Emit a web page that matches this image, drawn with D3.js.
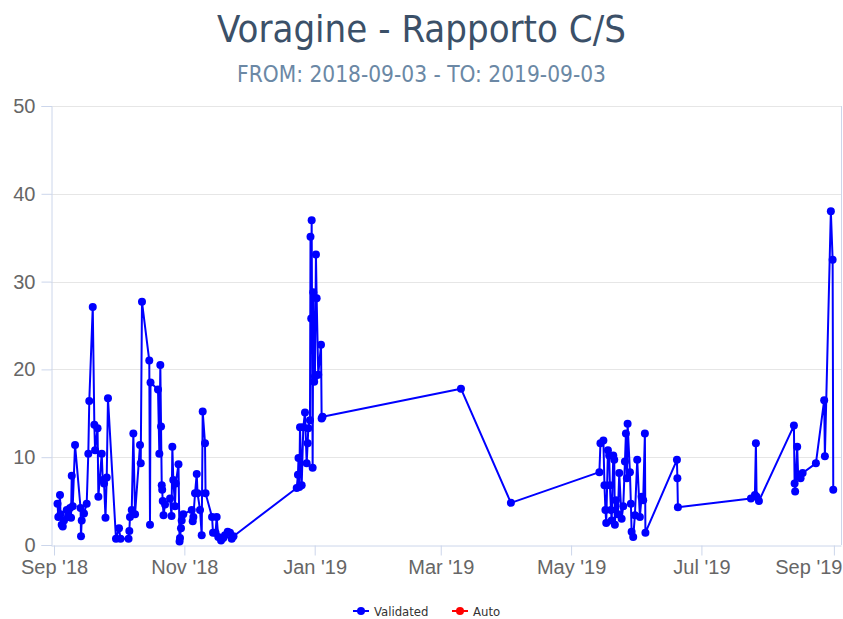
<!DOCTYPE html>
<html>
<head>
<meta charset="utf-8">
<script src="https://cdn.jsdelivr.net/npm/d3@7"></script>
<style>
  body { margin: 0; background: #fff; }
  svg { display: block; font-family: 'DejaVu Sans Condensed', 'DejaVu Sans', sans-serif; }
</style>
</head>
<body>
<div id="chart"></div>
<script>
// chart text
const chartTitle = 'Voragine - Rapporto C/S';
const chartSubtitle = 'FROM: 2018-09-03 - TO: 2019-09-03';
const seriesNames = ['Validated', 'Auto'];
const seriesColors = ['#0000ff', '#ff0000'];

// axis ticks
const yTicks = [0, 10, 20, 30, 40, 50];
const xTickDates = ['2018-09-01', '2018-11-01', '2019-01-01', '2019-03-01', '2019-05-01', '2019-07-01', '2019-09-01'];
const xTickLabels = ["Sep '18", "Nov '18", "Jan '19", "Mar '19", "May '19", "Jul '19", "Sep '19"];

// Validated series: time (UTC, yyyy-mm-ddThh) and C/S ratio
const validatedTimes = [
    '2018-09-02T15', '2018-09-03T00', '2018-09-03T19', '2018-09-04T01', '2018-09-04T14', '2018-09-05T02',
    '2018-09-05T16', '2018-09-06T23', '2018-09-07T17', '2018-09-08T12', '2018-09-08T23', '2018-09-09T07',
    '2018-09-09T18', '2018-09-10T20', '2018-09-13T10', '2018-09-13T15', '2018-09-13T23', '2018-09-15T01',
    '2018-09-16T07', '2018-09-17T01', '2018-09-17T12', '2018-09-19T03', '2018-09-19T21', '2018-09-20T05',
    '2018-09-21T09', '2018-09-21T18', '2018-09-23T08', '2018-09-23T19', '2018-09-24T10', '2018-09-25T02',
    '2018-09-25T16', '2018-09-26T06', '2018-09-30T00', '2018-10-01T10', '2018-10-02T03', '2018-10-05T21',
    '2018-10-06T06', '2018-10-06T13', '2018-10-07T09', '2018-10-08T03', '2018-10-08T22', '2018-10-11T06',
    '2018-10-11T14', '2018-10-12T04', '2018-10-15T14', '2018-10-15T22', '2018-10-16T04', '2018-10-19T16',
    '2018-10-20T07', '2018-10-20T18', '2018-10-21T02', '2018-10-21T10', '2018-10-21T15', '2018-10-21T21',
    '2018-10-22T06', '2018-10-22T23', '2018-10-25T07', '2018-10-26T00', '2018-10-26T09', '2018-10-26T20',
    '2018-10-27T15', '2018-10-27T23', '2018-10-29T06', '2018-10-29T18', '2018-10-29T23', '2018-10-30T10',
    '2018-10-30T18', '2018-10-31T12', '2018-11-04T11', '2018-11-04T22', '2018-11-05T05', '2018-11-06T00',
    '2018-11-06T19', '2018-11-07T04', '2018-11-08T08', '2018-11-09T03', '2018-11-09T14', '2018-11-10T16',
    '2018-11-10T22', '2018-11-13T23', '2018-11-14T10', '2018-11-15T14', '2018-11-16T03', '2018-11-16T21',
    '2018-11-18T04', '2018-11-19T05', '2018-11-20T00', '2018-11-21T07', '2018-11-22T09', '2018-11-23T04',
    '2018-11-24T00',
    '2018-12-23T14', '2018-12-24T04', '2018-12-24T10', '2018-12-24T19', '2018-12-25T03', '2018-12-25T22',
    '2018-12-26T16', '2018-12-27T11', '2018-12-28T06', '2018-12-28T17', '2018-12-29T00', '2018-12-29T19',
    '2018-12-30T01', '2018-12-30T09', '2018-12-30T14', '2018-12-31T01', '2018-12-31T08', '2018-12-31T18',
    '2019-01-01T03', '2019-01-01T14', '2019-01-01T22', '2019-01-02T16', '2019-01-03T23', '2019-01-04T06',
    '2019-01-04T16',
    '2019-03-10T11', '2019-04-02T20',
    '2019-05-14T06', '2019-05-14T18', '2019-05-16T03', '2019-05-16T15', '2019-05-17T02', '2019-05-17T11',
    '2019-05-18T06', '2019-05-18T20', '2019-05-19T04', '2019-05-19T16', '2019-05-20T00', '2019-05-20T18',
    '2019-05-21T05', '2019-05-21T12', '2019-05-22T00', '2019-05-22T22', '2019-05-23T13', '2019-05-24T16',
    '2019-05-25T10', '2019-05-26T05', '2019-05-26T16', '2019-05-27T03', '2019-05-27T11', '2019-05-28T13',
    '2019-05-29T00', '2019-05-29T08', '2019-05-30T02', '2019-05-30T21', '2019-05-31T23', '2019-06-02T05',
    '2019-06-03T00', '2019-06-03T18', '2019-06-04T13', '2019-06-04T19',
    '2019-06-19T13', '2019-06-19T18', '2019-06-20T00',
    '2019-07-24T04', '2019-07-26T01', '2019-07-26T12', '2019-07-26T20', '2019-07-27T22',
    '2019-08-13T07', '2019-08-13T15', '2019-08-13T21', '2019-08-14T20', '2019-08-15T07', '2019-08-16T10',
    '2019-08-17T09', '2019-08-23T14', '2019-08-27T11', '2019-08-27T19', '2019-08-30T14', '2019-08-31T10',
    '2019-08-31T17'
];
const validatedValues = [
    4.7, 3.2, 5.7, 3.5, 2.3, 2.1,
    2.8, 4.0, 3.2, 4.2, 3.1, 7.9,
    4.4, 11.4, 4.2, 1.0, 2.8, 3.6,
    4.7, 10.4, 16.4, 27.1, 13.7, 10.8,
    13.3, 5.5, 10.4, 7.4, 7.0, 3.1,
    7.7, 16.7, 0.7, 1.9, 0.7, 0.7,
    1.6, 3.2, 4.0, 12.7, 3.5, 11.4,
    9.3, 27.7, 21.0, 2.3, 18.5, 17.7,
    10.4, 20.5, 13.5, 6.8, 6.3, 5.0,
    3.4, 4.6, 5.3, 3.3, 11.2, 7.4,
    4.4, 7.0, 9.2, 0.4, 0.8, 1.9,
    2.8, 3.5, 4.0, 2.7, 3.2, 5.9,
    8.1, 5.9, 4.0, 1.1, 15.2, 11.6,
    5.9, 3.2, 1.4, 1.4, 3.2, 0.9,
    0.5, 0.8, 1.1, 1.5, 1.4, 0.7,
    1.0,
    6.5, 8.0, 9.9, 6.6, 13.4, 6.8,
    13.4, 15.1, 9.3, 11.6, 13.3, 14.2,
    35.1, 25.8, 37.0, 8.8, 28.8, 18.6,
    19.2, 33.1, 28.1, 19.4, 22.8, 14.4,
    14.6,
    17.8, 4.8,
    8.3, 11.6, 11.9, 6.8, 4.0, 2.5,
    10.8, 10.2, 6.8, 4.0, 2.8, 10.2,
    9.7, 2.3, 5.1, 3.5, 8.2, 3.0,
    4.4, 9.5, 12.7, 7.6, 13.8, 8.3,
    4.7, 1.5, 0.9, 3.4, 9.7, 3.2,
    5.5, 5.1, 12.7, 1.4,
    9.7, 7.6, 4.3,
    5.3, 5.7, 11.6, 5.5, 5.0,
    13.6, 7.0, 6.1, 11.2, 7.8, 7.6,
    8.2, 9.3, 16.5, 10.1, 38.0, 32.5,
    6.3
];
// Auto series has no points in this period
const autoTimes = [];
const autoValues = [];

const width = 843, height = 619;
const plot = { left: 51, right: 841, top: 106, bottom: 545 };

const parseTime = d3.utcParse('%Y-%m-%dT%H');
const parseDay = d3.utcParse('%Y-%m-%d');

const validated = validatedTimes.map((t, i) => ({ date: parseTime(t), value: validatedValues[i] }));
const auto = autoTimes.map((t, i) => ({ date: parseTime(t), value: autoValues[i] }));

const svg = d3.select('#chart').append('svg')
    .attr('width', width)
    .attr('height', height);

const x = d3.scaleUtc()
    .domain([parseTime('2018-08-30T14'), parseTime('2019-09-04T08')])
    .range([plot.left, plot.right]);

const y = d3.scaleLinear()
    .domain([0, 50])
    .range([plot.bottom, plot.top]);

// gridlines
svg.append('g')
    .selectAll('line')
    .data(yTicks.filter(d => d > 0))
    .enter()
    .append('line')
    .attr('x1', plot.left)
    .attr('x2', plot.right)
    .attr('y1', d => Math.round(y(d)) + 0.5)
    .attr('y2', d => Math.round(y(d)) + 0.5)
    .style('stroke', '#e6e6e6')
    .style('stroke-width', 1);

// y axis
const yAxis = svg.append('g')
    .attr('transform', `translate(${plot.left + 0.5},0)`)
    .call(d3.axisLeft(y).tickValues(yTicks).tickSize(10).tickPadding(6));
yAxis.select('.domain').style('stroke', '#ccd6eb');
yAxis.selectAll('.tick line').style('stroke', '#ccd6eb');
yAxis.selectAll('.tick text')
    .style('font-size', '20px')
    .style('fill', '#666666');

// right border
svg.append('line')
    .attr('x1', plot.right + 0.5)
    .attr('x2', plot.right + 0.5)
    .attr('y1', plot.top)
    .attr('y2', plot.bottom)
    .style('stroke', '#ccd6eb');

// x axis
const xAxis = svg.append('g')
    .attr('transform', `translate(0,${plot.bottom + 0.5})`)
    .call(d3.axisBottom(x)
        .tickValues(xTickDates.map(parseDay))
        .tickFormat((d, i) => xTickLabels[i])
        .tickSize(10)
        .tickPadding(4)
        .tickSizeOuter(0));
xAxis.select('.domain').style('stroke', '#ccd6eb');
xAxis.selectAll('.tick line').style('stroke', '#ccd6eb');
xAxis.selectAll('.tick text')
    .style('font-size', '20px')
    .style('fill', '#666666');

// keep the last label inside the page, as the original does
xAxis.selectAll('.tick text').each(function () {
    const box = this.getBBox();
    const tickX = x(d3.select(this.parentNode).datum());
    const overflow = tickX + box.x + box.width - (width - 1);
    if (overflow > 0) d3.select(this).attr('x', -overflow);
});

// series
const line = d3.line()
    .x(d => x(d.date))
    .y(d => y(d.value));

[validated, auto].forEach((data, k) => {
    if (!data.length) return;
    svg.append('path')
        .datum(data)
        .attr('d', line)
        .style('fill', 'none')
        .style('stroke', seriesColors[k])
        .style('stroke-width', 2)
        .style('stroke-linejoin', 'round');

    svg.append('g')
        .selectAll('circle')
        .data(data)
        .enter()
        .append('circle')
        .attr('cx', d => x(d.date))
        .attr('cy', d => y(d.value))
        .attr('r', 4)
        .style('fill', seriesColors[k]);
});

// title
svg.append('text')
    .attr('x', width / 2)
    .attr('y', 42)
    .attr('text-anchor', 'middle')
    .style('font-size', '38px')
    .style('fill', '#3b5068')
    .text(chartTitle);

svg.append('text')
    .attr('x', width / 2)
    .attr('y', 82)
    .attr('text-anchor', 'middle')
    .style('font-size', '22.5px')
    .style('fill', '#6b88a5')
    .text(chartSubtitle);

// legend
const legendX = [353, 452];
const legend = svg.append('g')
    .selectAll('g')
    .data(seriesNames)
    .enter()
    .append('g')
    .attr('transform', (d, i) => `translate(${legendX[i]},611)`);

legend.append('line')
    .attr('x1', 0)
    .attr('x2', 16)
    .style('stroke', (d, i) => seriesColors[i])
    .style('stroke-width', 2);

legend.append('circle')
    .attr('cx', 8)
    .attr('r', 4)
    .style('fill', (d, i) => seriesColors[i]);

legend.append('text')
    .attr('x', 21)
    .attr('dy', '0.35em')
    .style('font-size', '13px')
    .style('fill', '#333333')
    .text(d => d);
</script>
</body>
</html>
